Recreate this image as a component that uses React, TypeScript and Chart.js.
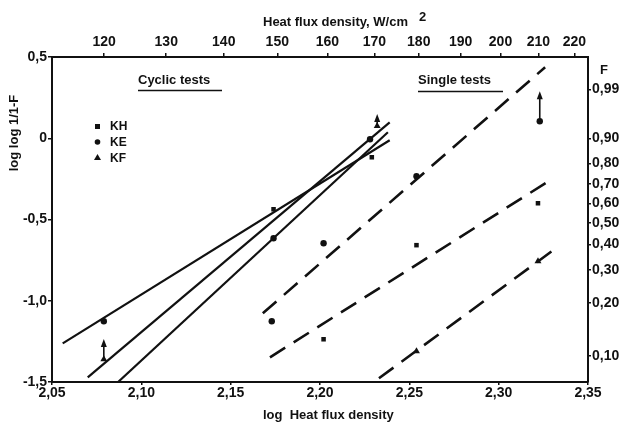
import React, { useEffect, useRef } from 'react';
import { Chart, registerables } from 'chart.js';
Chart.register(...registerables);

// ---- axis ticks ----
const xTicks = [2.05, 2.10, 2.15, 2.20, 2.25, 2.30, 2.35];
const yTicks = [-1.5, -1.0, -0.5, 0, 0.5];
const fluxTicks = [120, 130, 140, 150, 160, 170, 180, 190, 200, 210, 220];
const fTicks = [0.10, 0.20, 0.30, 0.40, 0.50, 0.60, 0.70, 0.80, 0.90, 0.99];

// ---- cyclic tests: regression lines [log q, log log 1/(1-F)] ----
const cyclicLine1 = [[2.056, -1.262], [2.239, -0.012]];
const cyclicLine2 = [[2.070, -1.471], [2.239, 0.098]];
const cyclicLine3 = [[2.087, -1.5], [2.238, 0.037]];
// ---- single tests: regression lines ----
const singleLine1 = [[2.168, -1.077], [2.326, 0.437]];
const singleLine2 = [[2.172, -1.348], [2.327, -0.271]];
const singleLine3 = [[2.233, -1.477], [2.332, -0.677]];

// ---- measured points ----
const cyclicKH = [[2.174, -0.437], [2.229, -0.117]];
const cyclicKE = [[2.079, -1.126], [2.174, -0.615], [2.228, -0.006]];
const cyclicKF = [[2.079, -1.36], [2.232, 0.075]];
const singleKH = [[2.202, -1.237], [2.254, -0.658], [2.322, -0.40]];
const singleKE = [[2.173, -1.126], [2.202, -0.646], [2.254, -0.234], [2.323, 0.105]];
const singleKF = [[2.254, -1.31], [2.322, -0.757]];
// arrows: [x, from y, to y]
const arrows = [[2.079, -1.36, -1.235], [2.323, 0.105, 0.29], [2.232, 0.075, 0.15]];

const FONT = '"Liberation Sans", Arial, sans-serif';
const INK = '#111';

const pts = (a: number[][]) => a.map(([x, y]) => ({ x, y }));
const comma = (s: string) => s.replace('.', ',');

const overlay = {
  id: 'overlay',
  afterDatasetsDraw(chart: any) {
    const { ctx, scales } = chart;
    const xs = scales.x, ys = scales.y;
    ctx.save();
    ctx.strokeStyle = INK;
    ctx.fillStyle = INK;
    // arrows
    for (const [x, y0, y1] of arrows) {
      const px = xs.getPixelForValue(x);
      const p0 = ys.getPixelForValue(y0);
      const p1 = ys.getPixelForValue(y1);
      ctx.lineWidth = 1.6;
      ctx.beginPath();
      ctx.moveTo(px, p0);
      ctx.lineTo(px, p1 + 5);
      ctx.stroke();
      ctx.beginPath();
      ctx.moveTo(px, p1);
      ctx.lineTo(px - 3, p1 + 8);
      ctx.lineTo(px + 3, p1 + 8);
      ctx.closePath();
      ctx.fill();
    }
    // texts
    ctx.font = `bold 13px ${FONT}`;
    ctx.textBaseline = 'middle';
    ctx.textAlign = 'left';
    ctx.fillText('Cyclic tests', 138, 80);
    ctx.fillText('Single tests', 418, 80);
    ctx.lineWidth = 1.5;
    ctx.beginPath();
    ctx.moveTo(138, 90.5); ctx.lineTo(222, 90.5);
    ctx.moveTo(418, 91.5); ctx.lineTo(503, 91.5);
    ctx.stroke();
    // legend
    ctx.font = `bold 12px ${FONT}`;
    ctx.fillRect(95, 124, 5, 5);
    ctx.fillText('KH', 110, 127);
    ctx.beginPath(); ctx.arc(97.5, 142, 2.8, 0, Math.PI * 2); ctx.fill();
    ctx.fillText('KE', 110, 143);
    ctx.beginPath();
    ctx.moveTo(97.5, 154); ctx.lineTo(101, 160); ctx.lineTo(94, 160); ctx.closePath(); ctx.fill();
    ctx.fillText('KF', 110, 159);
    ctx.restore();
  },
  afterDraw(chart: any) {
    const { ctx } = chart;
    ctx.save();
    ctx.fillStyle = INK;
    ctx.textBaseline = 'middle';
    ctx.textAlign = 'left';
    ctx.font = `bold 13px ${FONT}`;
    const t = 'Heat flux density, W/cm';
    ctx.fillText(t, 263, 22);
    const w = ctx.measureText(t).width;
    ctx.fillText('2', 263 + w + 11, 17);
    ctx.fillText('log  Heat flux density', 263, 415);
    ctx.fillText('F', 600, 70);
    ctx.translate(14, 133);
    ctx.rotate(-Math.PI / 2);
    ctx.textAlign = 'center';
    ctx.fillText('log log 1/1-F', 0, 0);
    ctx.restore();
  },
};

const gridCfg = { display: true, drawOnChartArea: false, drawTicks: true, tickLength: 4, color: INK, lineWidth: 1.5 };
const borderCfg = { display: true, color: INK, width: 2 };
const tickFont = { family: FONT, size: 14, weight: 'bold' as const };

export default function App() {
  const ref = useRef<HTMLCanvasElement | null>(null);
  useEffect(() => {
    if (!ref.current) return;
    const solid = (d: number[][]) => ({ data: pts(d), showLine: true, borderColor: INK, borderWidth: 2.2, pointRadius: 0, xAxisID: 'x', yAxisID: 'y' });
    const dashed = (d: number[][]) => ({ data: pts(d), showLine: true, borderColor: INK, borderWidth: 2.6, borderDash: [18, 10], pointRadius: 0, xAxisID: 'x', yAxisID: 'y' });
    const marks = (d: number[][], style: string, r: number) => ({ data: pts(d), showLine: false, pointStyle: style, pointRadius: r, backgroundColor: INK, borderColor: INK, borderWidth: 0, xAxisID: 'x', yAxisID: 'y' });
    const chart = new Chart(ref.current, {
      type: 'scatter',
      data: {
        datasets: [
          solid(cyclicLine1), solid(cyclicLine2), solid(cyclicLine3),
          dashed(singleLine1), dashed(singleLine2), dashed(singleLine3),
          marks([...cyclicKH, ...singleKH], 'rect', 3.2),
          marks([...cyclicKE, ...singleKE], 'circle', 3.2),
          marks([...cyclicKF, ...singleKF], 'triangle', 4),
        ] as any,
      },
      options: {
        animation: false,
        responsive: false,
        layout: { padding: 0 },
        plugins: { legend: { display: false }, tooltip: { enabled: false } },
        scales: {
          x: {
            type: 'linear', position: 'bottom', min: 2.05, max: 2.35,
            afterBuildTicks: (s: any) => { s.ticks = xTicks.map((v) => ({ value: v })); },
            ticks: { callback: (v: any) => comma(Number(v).toFixed(2)), color: INK, font: tickFont, padding: 0, maxRotation: 0, autoSkip: false },
            grid: { ...gridCfg, tickLength: 3 }, border: borderCfg,
            afterFit: (s: any) => { s.height = 46; },
          },
          x2: {
            type: 'linear', position: 'top', min: 2.05, max: 2.35,
            afterBuildTicks: (s: any) => { s.ticks = fluxTicks.map((v) => ({ value: Math.log10(v) })); },
            ticks: { callback: (_v: any, i: number) => String(fluxTicks[i]), color: INK, font: tickFont, padding: 2, maxRotation: 0, autoSkip: false },
            grid: gridCfg, border: borderCfg,
            afterFit: (s: any) => { s.height = 57; },
          },
          y: {
            type: 'linear', position: 'left', min: -1.5, max: 0.5,
            afterBuildTicks: (s: any) => { s.ticks = yTicks.map((v) => ({ value: v })); },
            ticks: { callback: (v: any) => (Number(v) === 0 ? '0' : comma(Number(v).toFixed(1))), color: INK, font: tickFont, padding: 1, autoSkip: false },
            grid: gridCfg, border: borderCfg,
            afterFit: (s: any) => { s.width = 52; },
          },
          y2: {
            type: 'linear', position: 'right', min: -1.5, max: 0.5,
            afterBuildTicks: (s: any) => { s.ticks = fTicks.map((F) => ({ value: Math.log10(Math.log10(1 / (1 - F))) })); },
            ticks: { callback: (_v: any, i: number) => comma(fTicks[i].toFixed(2)), color: INK, font: tickFont, padding: 1, autoSkip: false },
            grid: { ...gridCfg, tickLength: 3 }, border: borderCfg,
            afterFit: (s: any) => { s.width = 44; },
          },
        },
      } as any,
      plugins: [overlay],
    });
    return () => chart.destroy();
  }, []);
  return (
    <div style={{ position: 'fixed', left: 0, top: 0, width: 632, height: 428, background: '#fff' }}>
      <canvas ref={ref} width={632} height={428} style={{ width: 632, height: 428 }} />
    </div>
  );
}
